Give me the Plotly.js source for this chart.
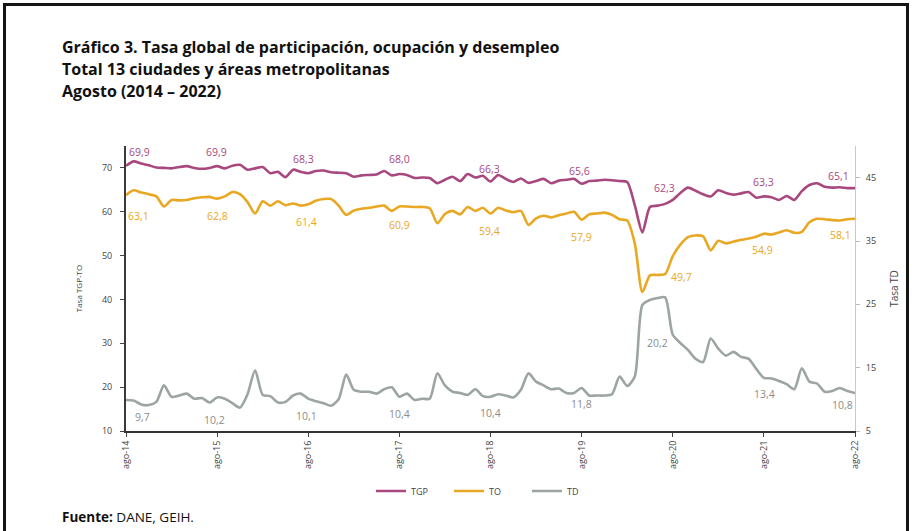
<!DOCTYPE html>
<html>
<head>
<meta charset="utf-8">
<script src="https://cdn.plot.ly/plotly-3.0.1.min.js"></script>
<style>
  html, body { margin: 0; padding: 0; background: #ffffff; }
  #wrap { position: relative; width: 915px; height: 531px; overflow: hidden; background: #fff; }
  #frame { position: absolute; left: 3px; top: 3px; width: 906px; height: 560px; border: 3px solid #151515; box-sizing: border-box; pointer-events: none; z-index: 5; }
  #chart { position: absolute; left: 0; top: 0; width: 915px; height: 531px; }
</style>
</head>
<body>
<div id="wrap">
  <div id="chart"></div>
  <div id="frame"></div>
</div>
<script>
// ---- Data (monthly, ago-14 .. ago-22) ----
const monthNames = ['ene','feb','mar','abr','may','jun','jul','ago','sep','oct','nov','dic'];
const categories = [];
for (let i = 0; i < 97; i++) {
  const m = (7 + i) % 12;
  const yr = 14 + Math.floor((7 + i) / 12);
  categories.push(monthNames[m] + '-' + yr);
}

const tickLabels = ['ago-14','ago-15','ago-16','ago-17','ago-18','ago-19','ago-20','ago-21','ago-22'];

// Tasa global de participación (TGP)
const tgp = [
  70.5, 71.5, 71.0, 70.6, 70.1, 70.0, 69.9, 70.2, 70.4, 70.0, 69.8, 70.0,
  70.4, 69.9, 70.5, 70.7, 69.6, 69.9, 70.2, 68.8, 69.1, 67.9, 69.6, 69.1,
  68.8, 69.3, 69.4, 69.0, 68.9, 68.8, 68.0, 68.3, 68.4, 68.5, 69.3, 68.3,
  68.6, 68.4, 67.7, 67.8, 67.7, 66.5, 67.3, 68.0, 67.0, 68.6, 67.8, 68.2,
  66.9, 68.4, 67.5, 66.8, 67.6, 66.6, 67.0, 67.5, 66.5, 67.1, 67.3, 67.5,
  66.4, 67.0, 67.1, 67.3, 67.2, 67.0, 66.8, 61.5, 55.3, 61.1, 61.4, 61.8,
  62.7, 64.3, 65.5, 64.8, 64.0, 63.5, 64.9, 64.3, 63.9, 64.2, 64.5, 63.2,
  63.5, 63.3, 62.7, 63.6, 62.7, 64.7, 66.1, 66.5, 65.7, 65.5, 65.6, 65.4,
  65.4
];

// Tasa de ocupación (TO)
const to = [
  63.8, 64.9, 64.4, 64.0, 63.5, 61.2, 62.7, 62.6, 62.7, 63.1, 63.3, 63.4,
  63.0, 63.5, 64.5, 64.0, 62.2, 59.6, 62.4, 61.4, 62.4, 61.5, 61.9, 61.4,
  61.7, 62.5, 62.9, 62.9, 61.4, 59.3, 60.3, 60.7, 60.9, 61.2, 61.4, 60.2,
  61.2, 61.2, 61.1, 61.1, 60.8, 57.4, 59.5, 60.2, 59.4, 61.1, 60.2, 60.9,
  59.6, 60.9, 60.3, 59.9, 60.2, 57.0, 58.5, 59.1, 58.7, 59.2, 59.6, 60.0,
  58.2, 59.4, 59.6, 59.8, 59.3, 58.3, 58.0, 52.8, 41.7, 45.5, 45.6, 45.8,
  49.9, 52.5, 54.2, 54.6, 54.4, 51.2, 53.4, 52.8, 53.2, 53.6, 53.9, 54.3,
  55.0, 54.8, 55.3, 55.8, 55.2, 55.4, 57.6, 58.4, 58.3, 58.1, 58.0, 58.3,
  58.4
];

// Tasa de desempleo (TD)
const td = [
   9.9,  9.8,  9.2,  9.1,  9.6, 12.2, 10.4, 10.6, 10.9, 10.1, 10.2,  9.5,
  10.3, 10.1,  9.4,  8.7, 10.8, 14.6, 10.7, 10.5,  9.5,  9.6, 10.6, 10.9,
  10.1,  9.7,  9.4,  9.0, 10.0, 13.9, 11.5, 11.2, 11.2, 10.9, 11.6, 11.9,
  10.4, 10.9,  9.9, 10.1, 10.1, 14.1, 12.2, 11.2, 11.0, 10.7, 11.6, 10.5,
  10.4, 10.8, 10.6, 10.3, 11.5, 14.1, 12.8, 12.2, 11.6, 11.7, 11.0, 11.0,
  11.8, 10.6, 10.6, 10.6, 10.8, 13.6, 12.1, 13.6, 24.9, 25.7, 26.0, 26.1,
  20.2, 18.9, 17.8, 16.4, 15.9, 19.6, 18.0, 16.9, 17.5, 16.7, 16.4, 14.8,
  13.4, 13.3, 12.9, 12.4, 11.6, 14.9, 12.8, 12.5, 11.2, 11.3, 11.8, 11.3,
  11.0
];

// Labelled August values
const labelTGP = [69.9, 69.9, 68.3, 68.0, 66.3, 65.6, 62.3, 63.3, 65.1];
const labelTO  = [63.1, 62.8, 61.4, 60.9, 59.4, 57.9, 49.7, 54.9, 58.1];
const labelTD  = [9.7, 10.2, 10.1, 10.4, 10.4, 11.8, 20.2, 13.4, 10.8];

// ---- Styles ----
const cTGP = '#A8487F';
const cTO  = '#E9A823';
const cTD  = '#9DA4A4';
const fontFam = '"Open Sans", "Noto Sans", sans-serif';

// label pixel offsets (style only)
const offTGP = [[13,14],[-1,14],[-5,14],[0,15],[-1,13],[-2,13],[-8,12],[0,14],[-17,12]];
const offTO  = [[12,-21],[0,-17],[-2,-18],[0,-18],[-1,-17],[0,-17],[9,-21],[-1,-16],[-15,-16]];
const offTD  = [[16,-17],[-3,-23],[-2,-17],[0,-17],[0,-16],[0,-16],[-15,-8],[1,-16],[-13,-12]];

function fmt(v) { return v.toFixed(1).replace('.', ','); }

const annotations = [];
tickLabels.forEach((cat, k) => {
  const idx = categories.indexOf(cat);
  annotations.push({x: cat, y: tgp[idx], xref: 'x', yref: 'y', text: fmt(labelTGP[k]), showarrow: false,
    xshift: offTGP[k][0], yshift: offTGP[k][1], font: {family: fontFam, size: 10.5, color: cTGP}});
  annotations.push({x: cat, y: to[idx], xref: 'x', yref: 'y', text: fmt(labelTO[k]), showarrow: false,
    xshift: offTO[k][0], yshift: offTO[k][1], font: {family: fontFam, size: 10.5, color: cTO}});
  annotations.push({x: cat, y: td[idx], xref: 'x', yref: 'y2', text: fmt(labelTD[k]), showarrow: false,
    xshift: offTD[k][0], yshift: offTD[k][1], font: {family: fontFam, size: 10.5, color: '#8c8c8c'}});
});

// Title lines 2 & 3 and footer
const subLines = ['Total 13 ciudades y áreas metropolitanas', 'Agosto (2014 – 2022)'];
annotations.push({xref: 'paper', yref: 'paper', x: -0.0878, y: 1.270, xanchor: 'left', yanchor: 'middle', xshift: -2,
  text: '<b>' + subLines[0] + '</b>', showarrow: false, font: {family: fontFam, size: 16, color: '#111'}});
annotations.push({xref: 'paper', yref: 'paper', x: -0.0878, y: 1.193, xanchor: 'left', yanchor: 'middle', xshift: -2,
  text: '<b>' + subLines[1] + '</b>', showarrow: false, font: {family: fontFam, size: 16, color: '#111'}});
annotations.push({xref: 'paper', yref: 'paper', x: -0.0878, y: -0.302, xanchor: 'left', yanchor: 'middle', xshift: -2,
  text: '<b>Fuente:</b> DANE, GEIH.', showarrow: false, font: {family: fontFam, size: 13.5, color: '#111'}});

const traces = [
  {x: categories, y: tgp, name: 'TGP', type: 'scatter', mode: 'lines', yaxis: 'y',
   line: {color: cTGP, width: 2.6, shape: 'spline', smoothing: 0.7}},
  {x: categories, y: to, name: 'TO', type: 'scatter', mode: 'lines', yaxis: 'y',
   line: {color: cTO, width: 2.6, shape: 'spline', smoothing: 0.7}},
  {x: categories, y: td, name: 'TD', type: 'scatter', mode: 'lines', yaxis: 'y2',
   line: {color: cTD, width: 2.6, shape: 'spline', smoothing: 0.7}}
];

const layout = {
  width: 915, height: 531,
  margin: {l: 126, r: 60, t: 146, b: 100},
  paper_bgcolor: '#ffffff', plot_bgcolor: '#ffffff',
  font: {family: fontFam, color: '#333'},
  showlegend: true,
  title: {
    text: '<b>Gráfico 3. Tasa global de participación, ocupación y desempleo</b>',
    xref: 'container', yref: 'container', x: 62/915, xanchor: 'left',
    y: 1 - 47/531, yanchor: 'middle',
    font: {family: fontFam, size: 16, color: '#111'}
  },
  xaxis: {
    type: 'category', categoryorder: 'array', categoryarray: categories,
    range: [0, 96], tickmode: 'array', tickvals: tickLabels, ticktext: tickLabels,
    tickangle: -90, tickfont: {size: 9, color: '#444'},
    ticks: 'outside', ticklen: 4, tickcolor: '#444', tickwidth: 1,
    showline: true, linecolor: '#333', linewidth: 2, showgrid: false, zeroline: false,
    fixedrange: true
  },
  yaxis: {
    range: [10, 75], tickvals: [10, 20, 30, 40, 50, 60, 70],
    tickfont: {size: 9, color: '#444'}, ticks: 'outside', ticklen: 4, tickcolor: '#444',
    ticklabelstandoff: 6,
    showline: true, linecolor: '#3a3a3a', linewidth: 2, showgrid: false, zeroline: false,
    title: {text: 'Tasa TGP-TO', font: {size: 8, color: '#444'}, standoff: 18}
  },
  yaxis2: {
    overlaying: 'y', side: 'right', range: [5, 50], tickvals: [5, 15, 25, 35, 45],
    tickfont: {size: 9, color: '#444'}, ticks: 'outside', ticklen: 4, tickcolor: '#bbb',
    ticklabelstandoff: 4,
    showline: true, linecolor: '#c8c8c8', linewidth: 1, showgrid: false, zeroline: false,
    title: {text: 'Tasa TD', font: {size: 10, color: '#444'}, standoff: 15}
  },
  legend: {
    orientation: 'h', xref: 'container', yref: 'container',
    x: 371/915, xanchor: 'left', y: 1 - 491/531, yanchor: 'middle',
    font: {size: 9, color: '#444'}, entrywidth: 33, entrywidthmode: 'pixels',
    itemwidth: 30, bgcolor: 'rgba(0,0,0,0)'
  },
  annotations: annotations
};

Plotly.newPlot('chart', traces, layout, {staticPlot: true, displayModeBar: false});
</script>
</body>
</html>
